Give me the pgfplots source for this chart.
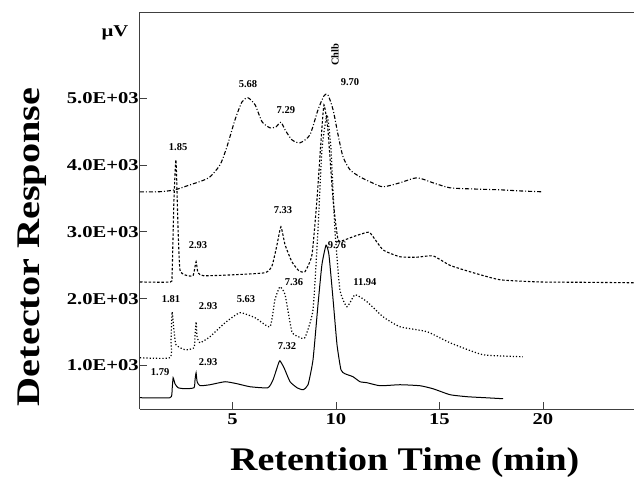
\documentclass[border=0pt]{standalone}
\usepackage{pgfplots}
\pgfplotsset{compat=1.18}
\usepackage{fontspec}
\setmainfont{Liberation Serif}
\newfontfamily\labfont[FakeStretch=1.15]{Liberation Serif}
\newfontfamily\ylabfont[FakeStretch=1.22]{Liberation Serif}
\newfontfamily\tickfont[FakeStretch=1.25]{Liberation Serif}
\begin{document}
\begin{tikzpicture}
\begin{axis}[
  scale only axis, width=494pt, height=396.5pt,
  xmin=0.53, xmax=24.4, ymin=350, ymax=6280,
  clip=false,
  axis x line*=bottom, axis y line*=left,
  axis line style={-, line width=1pt, black!75},
  tick align=inside, major tick length=7pt,
  tick style={line width=0.8pt, black!75},
  xtick={5,10,15,20}, xticklabels={5,10,15,20},
  ytick={1000,2000,3000,4000,5000},
  yticklabels={1.0E+03,2.0E+03,3.0E+03,4.0E+03,5.0E+03},
  /pgf/number format/assume math mode=true,
  ticklabel style={font=\tickfont\fontsize{16.5}{16.5}\selectfont\bfseries},
  yticklabel style={inner sep=1pt},
  xticklabel style={yshift=-1pt},
  xlabel={Retention Time (min)},
  ylabel={Detector Response},
  every axis x label/.style={at={(axis description cs:0.536,-0.156)}, anchor=base, font=\labfont\fontsize{33}{33}\selectfont\bfseries},
  every axis y label/.style={at={(axis description cs:-0.219,0.409)}, anchor=center, rotate=90, font=\ylabfont\fontsize{33}{33}\selectfont\bfseries},
]
% top trace: dash-dot
\addplot[black, line width=1.1pt, dash pattern=on 4pt off 2pt on 1pt off 2pt, smooth, tension=0.4] coordinates {
(0.53,3598) (1.50,3600) (2.22,3628) (2.95,3703) (3.50,3760) (3.91,3822) (4.40,4002) (4.73,4271) (5.12,4675) (5.46,4944) (5.75,5004) (6.09,4899) (6.43,4645) (6.81,4555) (7.10,4570) (7.34,4640) (7.54,4525) (7.87,4376) (8.26,4331) (8.74,4450) (9.13,4824) (9.42,5034) (9.61,5049) (9.86,4824) (10.10,4451) (10.34,4122) (10.68,3927) (11.16,3822) (11.70,3740) (12.27,3673) (13.09,3733) (13.91,3808) (14.69,3733) (15.51,3658) (16.70,3640) (17.92,3628) (19.0,3610) (20.0,3598)
};
% third trace: dashed
\addplot[black, line width=1.1pt, dash pattern=on 2.5pt off 1.8pt, smooth, tension=0.3] coordinates {
(0.53,2250) (2.00,2250) (2.08,2355) (2.17,3478) (2.27,4077) (2.37,3030) (2.46,2432) (2.71,2355) (3.09,2343) (3.24,2552) (3.33,2388) (3.60,2343) (4.88,2355) (6.57,2388) (6.91,2492) (7.15,2806) (7.34,3075) (7.54,2806) (7.87,2552) (8.20,2420) (8.50,2403) (8.84,2657) (9.08,3478) (9.28,4376) (9.42,4899) (9.61,4525) (9.86,3478) (10.10,2881) (10.43,2881) (10.82,2926) (11.30,2975) (11.64,2986) (12.27,2731) (13.09,2627) (13.90,2620) (14.69,2640) (15.50,2500) (16.47,2403) (17.92,2283) (19.86,2250) (22.0,2245) (24.4,2238)
};
% second trace: dotted
\addplot[black, line width=1.2pt, dotted, smooth, tension=0.3] coordinates {
(0.53,1117) (1.98,1117) (2.03,1386) (2.08,1804) (2.17,1536) (2.27,1311) (2.71,1236) (3.14,1266) (3.19,1461) (3.24,1655) (3.29,1431) (3.43,1341) (3.91,1431) (4.64,1640) (5.36,1790) (6.09,1715) (6.81,1580) (7.05,1984) (7.29,2178) (7.54,2059) (7.87,1506) (8.20,1430) (8.50,1416) (8.89,1834) (9.13,3030) (9.32,4226) (9.57,4750) (9.76,4226) (9.95,3030) (10.19,2133) (10.53,1879) (10.92,2059) (11.50,1954) (12.27,1730) (13.09,1580) (14.40,1506) (15.51,1341) (17.10,1162) (19.03,1132)
};
% bottom trace: solid
\addplot[black, line width=1pt, smooth, tension=0.3] coordinates {
(0.53,519) (1.98,519) (2.08,638) (2.13,818) (2.22,728) (2.37,668) (2.71,653) (3.14,668) (3.19,788) (3.24,892) (3.29,758) (3.43,698) (3.91,713) (4.64,758) (5.22,728) (5.85,683) (6.71,668) (6.96,788) (7.20,1012) (7.29,1072) (7.49,967) (7.78,758) (8.12,668) (8.41,638) (8.65,713) (8.89,1087) (9.13,1909) (9.32,2507) (9.52,2800) (9.66,2656) (9.86,1984) (10.05,1311) (10.24,937) (10.43,878) (10.82,833) (11.16,758) (11.50,743) (12.13,698) (13.09,713) (14.06,698) (14.69,653) (15.51,564) (16.33,534) (17.20,519) (18.07,504)
};
\draw[line width=1pt, black!75] (rel axis cs:0,1) -- (rel axis cs:1,1);
\begin{scope}[every node/.style={font=\fontsize{10.5}{10.5}\selectfont\bfseries, inner sep=0pt}]
\node at (axis cs:5.75,5213) {5.68};
\node at (axis cs:7.58,4824) {7.29};
\node at (axis cs:10.68,5243) {9.70};
\node[rotate=90] at (axis cs:9.95,5647) {Chlb};
\node at (axis cs:2.37,4271) {1.85};
\node at (axis cs:7.44,3327) {7.33};
\node at (axis cs:3.33,2803) {2.93};
\node at (axis cs:2.03,1999) {1.81};
\node at (axis cs:3.82,1894) {2.93};
\node at (axis cs:5.65,1999) {5.63};
\node at (axis cs:7.97,2253) {7.36};
\node at (axis cs:10.05,2803) {9.76};
\node at (axis cs:11.40,2253) {11.94};
\node at (axis cs:1.50,906) {1.79};
\node at (axis cs:3.82,1056) {2.93};
\node at (axis cs:7.63,1296) {7.32};
\end{scope}
\node[font=\tickfont\fontsize{16.5}{16.5}\selectfont\bfseries] at (axis description cs:-0.0506,0.948) {µV};
\coordinate (bl) at (rel axis cs:0,0);
\coordinate (tr) at (rel axis cs:1,1);
\end{axis}
\pgfresetboundingbox
\path ([shift={(-140pt,-69pt)}]bl) rectangle ([shift={(0pt,12.5pt)}]tr);
\end{tikzpicture}
\end{document}
